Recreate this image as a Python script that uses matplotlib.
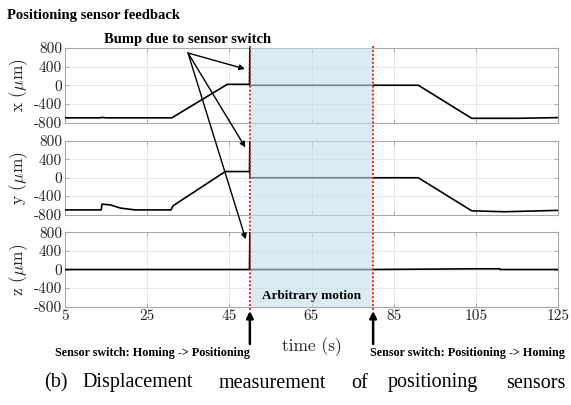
import matplotlib
matplotlib.use("Agg")
import matplotlib.pyplot as plt
from matplotlib.transforms import blended_transform_factory
from matplotlib.patches import Rectangle
from matplotlib.lines import Line2D

plt.rcParams['mathtext.fontset'] = 'cm'

#breakpoints of each trace (time in s, value in um)
x_time = [5, 13.5, 14, 15, 31, 44.5, 49.9, 50.0, 50.05, 91, 104, 115, 125]
x_val = [-700, -700, -690, -700, -700, 20, 20, 800, 0, 0, -710, -710, -695]

y_time = [5, 13.8, 14.0, 16.0, 18.5, 22, 30.8, 31.3, 44.0, 49.9, 50.0, 50.05, 91, 104, 112, 125]
y_val = [-700, -700, -575, -590, -660, -700, -700, -610, 135, 135, 800, 0, 0, -720, -740, -710]

z_time = [5, 49.9, 50.0, 50.05, 80, 105, 110.8, 110.9, 125]
z_val = [0, 0, 800, 0, 0, 15, 15, 0, 0]

labels = ["x", "y", "z"]
times = [x_time, y_time, z_time]
vals = [x_val, y_val, z_val]

xticks = [5, 25, 45, 65, 85, 105, 125]
yticks = [-800, -400, 0, 400, 800]
ytick_labels = ["-800", "-400", "0", "400", "800"]

switch_on = 50 #homing -> positioning
switch_off = 80 #positioning -> homing

#where the bump arrows point (time, value) on each axis
bump_pts = [(48.8, 350), (48.9, 660), (49.0, 650)]

#caption words and where each one starts (px), the original is justified
caption_words = ["(b)", "Displacement", "measurement", "of", "positioning", "sensors"]
caption_x = [44, 82, 219, 351, 388, 506]

W, H = 571, 405
fig = plt.figure(figsize=(W / 100, H / 100), dpi=100)

#axes boxes in pixels (top, bottom)
boxes = [(48, 122.5), (141, 214.5), (232.3, 306.7)]
left, right = 65, 558

axes = []
for i in range(3):
    top, bot = boxes[i]
    ax = fig.add_axes([left / W, 1 - bot / H, (right - left) / W, (bot - top) / H])
    ax.plot(times[i], vals[i], color='black', lw=1.2, zorder=3)
    ax.set_xlim(5, 125)
    ax.set_ylim(-800, 800)
    ax.set_xticks(xticks)
    ax.set_yticks(yticks)
    ax.set_yticklabels(ytick_labels, fontfamily='cmr10', fontsize=11)
    if i < 2:
        ax.set_xticklabels([])
    else:
        ax.set_xticklabels([str(t) for t in xticks], fontfamily='cmr10', fontsize=11)
    ax.grid(True, color='#e8e8e8', lw=0.7)
    ax.set_axisbelow(True)
    ax.tick_params(direction='in', top=True, right=True, length=3, width=0.6,
                   color='#a0a0a0', labelcolor='#262626', pad=2)
    for s in ax.spines.values():
        s.set_color('#a8a8a8')
        s.set_linewidth(0.8)
    ax.set_ylabel(labels[i] + r" ($\mu$m)", fontfamily='cmr10', fontsize=12.5,
                  color='#262626', labelpad=3)
    axes.append(ax)

#shaded arbitrary motion window and red switch lines spanning all axes
tr = blended_transform_factory(axes[2].transData, fig.transFigure)
y0 = 1 - boxes[2][1] / H
y1 = 1 - boxes[0][0] / H
fig.add_artist(Rectangle((switch_on, y0), switch_off - switch_on, y1 - y0, transform=tr,
                         facecolor='#c2dfe9', alpha=0.6, edgecolor='none', zorder=5))
for t in [switch_on, switch_off]:
    fig.add_artist(Line2D([t, t], [1 - 310 / H, 1 - 45 / H], transform=tr, color='red',
                          lw=1.3, linestyle=(0, (1, 1.2)), zorder=6))

fig.text((switch_on + switch_off) / 2, 1 - 296 / H, "Arbitrary motion", transform=tr,
         ha='center', va='center', fontsize=9.5, fontweight='bold',
         family='Liberation Serif', zorder=7)
axes[2].set_xlabel("time (s)", fontfamily='cmr10', fontsize=12.5, color='#262626', labelpad=10)

#bump arrows
fig.text(188 / W, 1 - 40 / H, "Bump due to sensor switch", ha='center', va='center',
         fontsize=10.5, fontweight='bold', family='Liberation Serif')
for ax, pt in zip(axes, bump_pts):
    ax.annotate('', xy=pt, xytext=(188 / W, 1 - 53 / H), textcoords='figure fraction',
                annotation_clip=False,
                arrowprops=dict(arrowstyle='-|>', color='black', lw=1.0,
                                mutation_scale=8, shrinkA=0, shrinkB=0), zorder=8)

#switch arrows under the plot
for t in [switch_on, switch_off]:
    axes[2].annotate('', xy=(t, 1 - 311 / H), xytext=(t, 1 - 344 / H), xycoords=tr, textcoords=tr,
                     annotation_clip=False,
                     arrowprops=dict(arrowstyle='-|>', color='black', lw=1.8,
                                     mutation_scale=10, shrinkA=0, shrinkB=0))

fig.text(152 / W, 1 - 353 / H, "Sensor switch: Homing -> Positioning", ha='center', va='center',
         fontsize=8.7, fontweight='bold', family='Liberation Serif')
fig.text(467 / W, 1 - 353 / H, "Sensor switch: Positioning -> Homing", ha='center', va='center',
         fontsize=8.7, fontweight='bold', family='Liberation Serif')

fig.text(7 / W, 1 - 15 / H, "Positioning sensor feedback", ha='left', va='center',
         fontsize=10.5, fontweight='bold', family='Liberation Serif')

for word, px in zip(caption_words, caption_x):
    fig.text(px / W, 1 - 383 / H, word, ha='left', va='center', fontsize=14.5,
             family='Liberation Serif')

fig.savefig("out.png", dpi=100)
